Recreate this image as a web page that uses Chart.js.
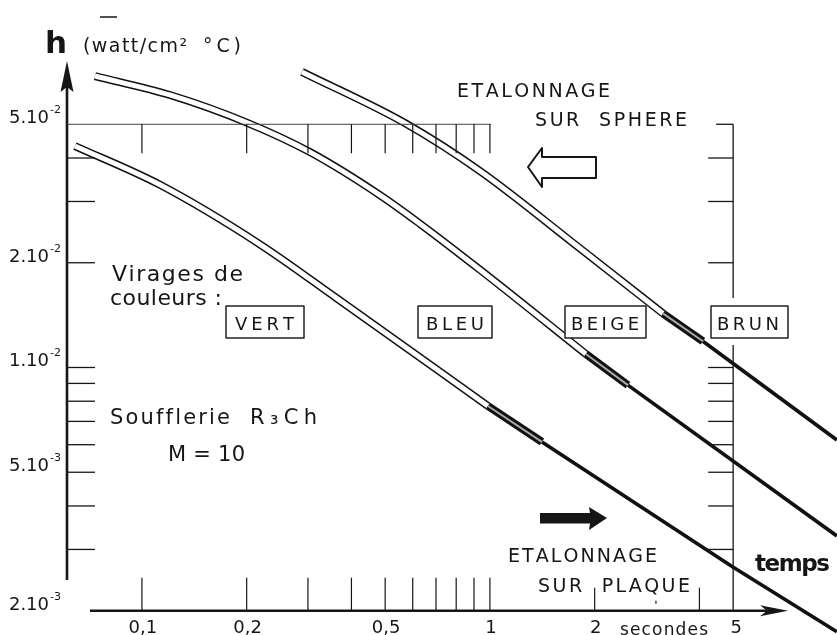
<!DOCTYPE html>
<html>
<head>
<meta charset="utf-8">
<script src="https://cdn.jsdelivr.net/npm/chart.js@4.4.1/dist/chart.umd.min.js"></script>
<style>
  html, body { margin: 0; padding: 0; background: #fff; overflow: hidden; }
  #wrap { position: relative; width: 837px; height: 635px; }
</style>
</head>
<body>
<div id="wrap"><canvas id="c"></canvas></div>
<script>
// Heat transfer coefficient h (watt/cm² °C) against time (s), log-log.
// Each curve: double-line part, colour-change marker, then thick single line.
const curve1T = [0.0642, 0.1127, 0.2183, 0.3634, 0.987, 1.411, 4.99, 9.93];
const curve1H = [0.0433, 0.0335, 0.0226, 0.0158, 0.00775, 0.00611, 0.00267, 0.00174];
const curve1Mark = [0.987, 1.411];

const curve2T = [0.0733, 0.1203, 0.2017, 0.304, 0.483, 0.629, 0.936, 1.887, 2.492, 9.93];
const curve2H = [0.0688, 0.0607, 0.0504, 0.0416, 0.0313, 0.0259, 0.0191, 0.01093, 0.0089, 0.00328];
const curve2Mark = [1.887, 2.492];

const curve3T = [0.2883, 0.570, 0.936, 1.814, 3.142, 4.093, 9.93];
const curve3H = [0.0707, 0.0504, 0.0367, 0.0220, 0.0143, 0.0119, 0.00619];
const curve3Mark = [3.142, 4.093];

// axis graduations
const hTicks = [0.04, 0.03, 0.02, 0.01, 0.009, 0.008, 0.007, 0.006, 0.005, 0.004, 0.003];
const tTicksFine = [0.1, 0.2, 0.3, 0.4, 0.5, 0.6, 0.7, 0.8, 0.9, 1];
const tTicksCoarse = [2, 4];
const tTickDot = [3];
const hLabelValues = [0.05, 0.02, 0.01, 0.005, 0.002];
const hLabelMant = ['5.10', '2.10', '1.10', '5.10', '2.10'];
const hLabelExp = ['-2', '-2', '-2', '-3', '-3'];
const tLabelValues = [0.1, 0.2, 0.5, 1, 2, 5];
const tLabelText = ['0,1', '0,2', '0,5', '1', '2', '5'];
const colourStages = ['VERT', 'BLEU', 'BEIGE', 'BRUN'];

function split(T, H, mark) {
  const pts = T.map((t, i) => ({ x: t, y: H[i] }));
  return {
    dbl: pts.filter(p => p.x <= mark[0]),
    mk: pts.filter(p => p.x >= mark[0] && p.x <= mark[1]),
    tail: pts.filter(p => p.x >= mark[1])
  };
}

const curves = [
  split(curve1T, curve1H, curve1Mark),
  split(curve2T, curve2H, curve2Mark),
  split(curve3T, curve3H, curve3Mark)
];

const datasets = [];
curves.forEach((c, i) => {
  const base = { pointRadius: 0, fill: false, borderCapStyle: 'butt', borderJoinStyle: 'round' };
  const smooth = { cubicInterpolationMode: 'monotone' };
  datasets.push(Object.assign({}, base, smooth, { label: 'c' + i + '-outer', data: c.dbl, borderColor: '#111', borderWidth: 8, order: 5 }));
  datasets.push(Object.assign({}, base, smooth, { label: 'c' + i + '-inner', data: c.dbl, borderColor: '#fff', borderWidth: 5, order: 4 }));
  datasets.push(Object.assign({}, base, { label: 'c' + i + '-tail', data: c.tail, borderColor: '#111', borderWidth: 3.6, tension: 0, order: 3 }));
  datasets.push(Object.assign({}, base, { label: 'c' + i + '-mark', data: c.mk, borderColor: '#111', borderWidth: 8, tension: 0, order: 2 }));
  datasets.push(Object.assign({}, base, { label: 'c' + i + '-markin', data: c.mk, borderColor: '#a8a8a8', borderWidth: 2, tension: 0, order: 1 }));
});

const INK = '#161616';

function spaced(ctx, text, x1, x2, base, font) {
  ctx.font = font;
  const chars = [...text];
  const w = chars.map(ch => ctx.measureText(ch).width);
  const total = w.reduce((a, b) => a + b, 0);
  const gap = chars.length > 1 ? (x2 - x1 - total) / (chars.length - 1) : 0;
  ctx.textAlign = 'left';
  ctx.textBaseline = 'alphabetic';
  let x = x1;
  chars.forEach((ch, i) => { ctx.fillText(ch, x, base); x += w[i] + gap; });
}

function line(ctx, x1, y1, x2, y2, w) {
  ctx.lineWidth = w;
  ctx.beginPath();
  ctx.moveTo(x1, y1);
  ctx.lineTo(x2, y2);
  ctx.stroke();
}

const FONT = '"DejaVu Sans", "Open Sans", sans-serif';

const decor = {
  id: 'decor',
  beforeDraw(chart) {
    const ctx = chart.ctx;
    ctx.save();
    ctx.fillStyle = '#fff';
    ctx.fillRect(0, 0, chart.width, chart.height);
    ctx.restore();
  },
  afterDatasetsDraw(chart) {
    const ctx = chart.ctx;
    const X = v => chart.scales.x.getPixelForValue(v);
    const Y = v => chart.scales.y.getPixelForValue(v);
    ctx.save();
    ctx.strokeStyle = INK;
    ctx.fillStyle = INK;
    ctx.lineCap = 'butt';

    // vertical h axis with arrow head
    const ax = 67;
    line(ctx, ax, 80, ax, 580, 2.6);
    ctx.beginPath();
    ctx.moveTo(ax, 61);
    ctx.lineTo(ax + 6.5, 92);
    ctx.lineTo(ax, 87);
    ctx.lineTo(ax - 6.5, 92);
    ctx.closePath();
    ctx.fill();

    // graduations on the h axis
    hTicks.forEach(v => line(ctx, ax, Y(v), ax + 28, Y(v), 1.3));

    // upper reference line at 5.10^-2 with hanging time graduations
    ctx.strokeStyle = '#444';
    line(ctx, ax, Y(0.05), X(1) + 1, Y(0.05), 1);
    ctx.strokeStyle = INK;
    tTicksFine.forEach(t => line(ctx, X(t), Y(0.05), X(t), Y(0.05) + 29, 1.2));

    // time axis with arrow head
    const by = Y(0.002);
    line(ctx, 90, by, 768, by, 2.6);
    ctx.beginPath();
    ctx.moveTo(788, by);
    ctx.lineTo(760, by - 5.5);
    ctx.lineTo(767, by);
    ctx.lineTo(760, by + 5.5);
    ctx.closePath();
    ctx.fill();
    tTicksFine.forEach(t => line(ctx, X(t), by, X(t), by - 33, 1.2));
    tTicksCoarse.forEach(t => line(ctx, X(t), by, X(t), by - 23, 1.2));
    tTickDot.forEach(t => line(ctx, X(t), by - 7, X(t), by - 10, 1.2));

    // secondary h scale standing at t = 5 s
    const rx = X(5);
    line(ctx, rx, Y(0.05), rx, 298, 1.3);
    line(ctx, rx, 345, rx, by, 1.3);
    line(ctx, rx - 17, Y(0.05), rx, Y(0.05), 1.3);
    hTicks.forEach(v => {
      const yy = Y(v);
      if (yy > 298 && yy < 345) return;
      line(ctx, rx - (v === 0.003 ? 30 : 25), yy, rx, yy, 1.3);
    });

    // small overline mark above h
    line(ctx, 100, 17, 117, 17, 1.5);

    // hollow arrow (sphere calibration, pointing left)
    ctx.lineWidth = 2;
    ctx.lineJoin = 'round';
    ctx.beginPath();
    ctx.moveTo(528, 167);
    ctx.lineTo(542, 148);
    ctx.lineTo(542, 157);
    ctx.lineTo(596, 157);
    ctx.lineTo(596, 178);
    ctx.lineTo(542, 178);
    ctx.lineTo(542, 187);
    ctx.closePath();
    ctx.fillStyle = '#fff';
    ctx.fill();
    ctx.stroke();

    // solid arrow (plate calibration, pointing right)
    ctx.fillStyle = INK;
    ctx.beginPath();
    ctx.moveTo(540, 513);
    ctx.lineTo(590, 513);
    ctx.lineTo(589, 507);
    ctx.lineTo(607, 518);
    ctx.lineTo(589, 530);
    ctx.lineTo(590, 523.5);
    ctx.lineTo(540, 523.5);
    ctx.closePath();
    ctx.fill();

    // colour-change boxes
    const boxes = [[226, 304], [418, 492], [565, 646], [711, 788]];
    const texts = [[235, 294], [426, 484], [571, 639], [717, 779]];
    ctx.lineWidth = 1.5;
    ctx.strokeStyle = '#222';
    boxes.forEach((b, i) => {
      ctx.fillStyle = '#fff';
      ctx.fillRect(b[0], 306, b[1] - b[0], 32);
      ctx.strokeRect(b[0], 306, b[1] - b[0], 32);
      ctx.fillStyle = INK;
      spaced(ctx, colourStages[i], texts[i][0], texts[i][1], 329.5, '18px ' + FONT);
    });
    ctx.restore();
  },
  afterDraw(chart) {
    const ctx = chart.ctx;
    const X = v => chart.scales.x.getPixelForValue(v);
    const Y = v => chart.scales.y.getPixelForValue(v);
    ctx.save();
    ctx.fillStyle = INK;

    // h axis labels with exponents
    hLabelValues.forEach((v, i) => {
      const base = Y(v) - 1;
      spaced(ctx, hLabelMant[i], 9, 49, base, '18px ' + FONT);
      ctx.font = '11px ' + FONT;
      ctx.fillText(hLabelExp[i], 50, base - 10);
    });

    // time labels
    ctx.font = '18px ' + FONT;
    ctx.textAlign = 'center';
    ctx.textBaseline = 'alphabetic';
    tLabelValues.forEach((v, i) => {
      ctx.fillText(tLabelText[i], X(v) + (v === 5 ? 3 : 1), 633);
    });
    spaced(ctx, 'secondes', 620, 708, 635, '17px ' + FONT);

    // axis titles
    ctx.font = 'bold 31px ' + FONT;
    ctx.textAlign = 'left';
    ctx.fillText('h', 45, 53);
    spaced(ctx, '(watt/cm²', 83, 187, 52, '19px ' + FONT);
    spaced(ctx, '°C)', 203, 241, 52, '19px ' + FONT);
    spaced(ctx, 'temps', 755, 830, 571, 'bold 23px ' + FONT);

    // annotations
    spaced(ctx, 'ETALONNAGE', 457, 610, 97, '19px ' + FONT);
    spaced(ctx, 'SUR  SPHERE', 535, 687, 126, '19px ' + FONT);
    spaced(ctx, 'ETALONNAGE', 508, 657, 562, '19px ' + FONT);
    spaced(ctx, 'SUR  PLAQUE', 538, 690, 592, '19px ' + FONT);
    spaced(ctx, 'Virages de', 112, 243, 281, '22px ' + FONT);
    spaced(ctx, 'couleurs :', 110, 222, 305, '22px ' + FONT);
    spaced(ctx, 'Soufflerie', 110, 230, 424, '21px ' + FONT);
    spaced(ctx, 'R₃Ch', 250, 317, 424, '21px ' + FONT);
    spaced(ctx, 'M = 10', 168, 245, 461, '21px ' + FONT);
    ctx.restore();
  }
};

new Chart(document.getElementById('c'), {
  type: 'line',
  data: { datasets },
  options: {
    responsive: true,
    maintainAspectRatio: false,
    animation: false,
    events: [],
    layout: { padding: 0 },
    plugins: { legend: { display: false }, tooltip: { enabled: false } },
    scales: {
      x: { type: 'logarithmic', min: 0.0391, max: 9.94, display: false },
      y: { type: 'logarithmic', min: 0.001703, max: 0.1138, display: false }
    }
  },
  plugins: [decor]
});
</script>
</body>
</html>
